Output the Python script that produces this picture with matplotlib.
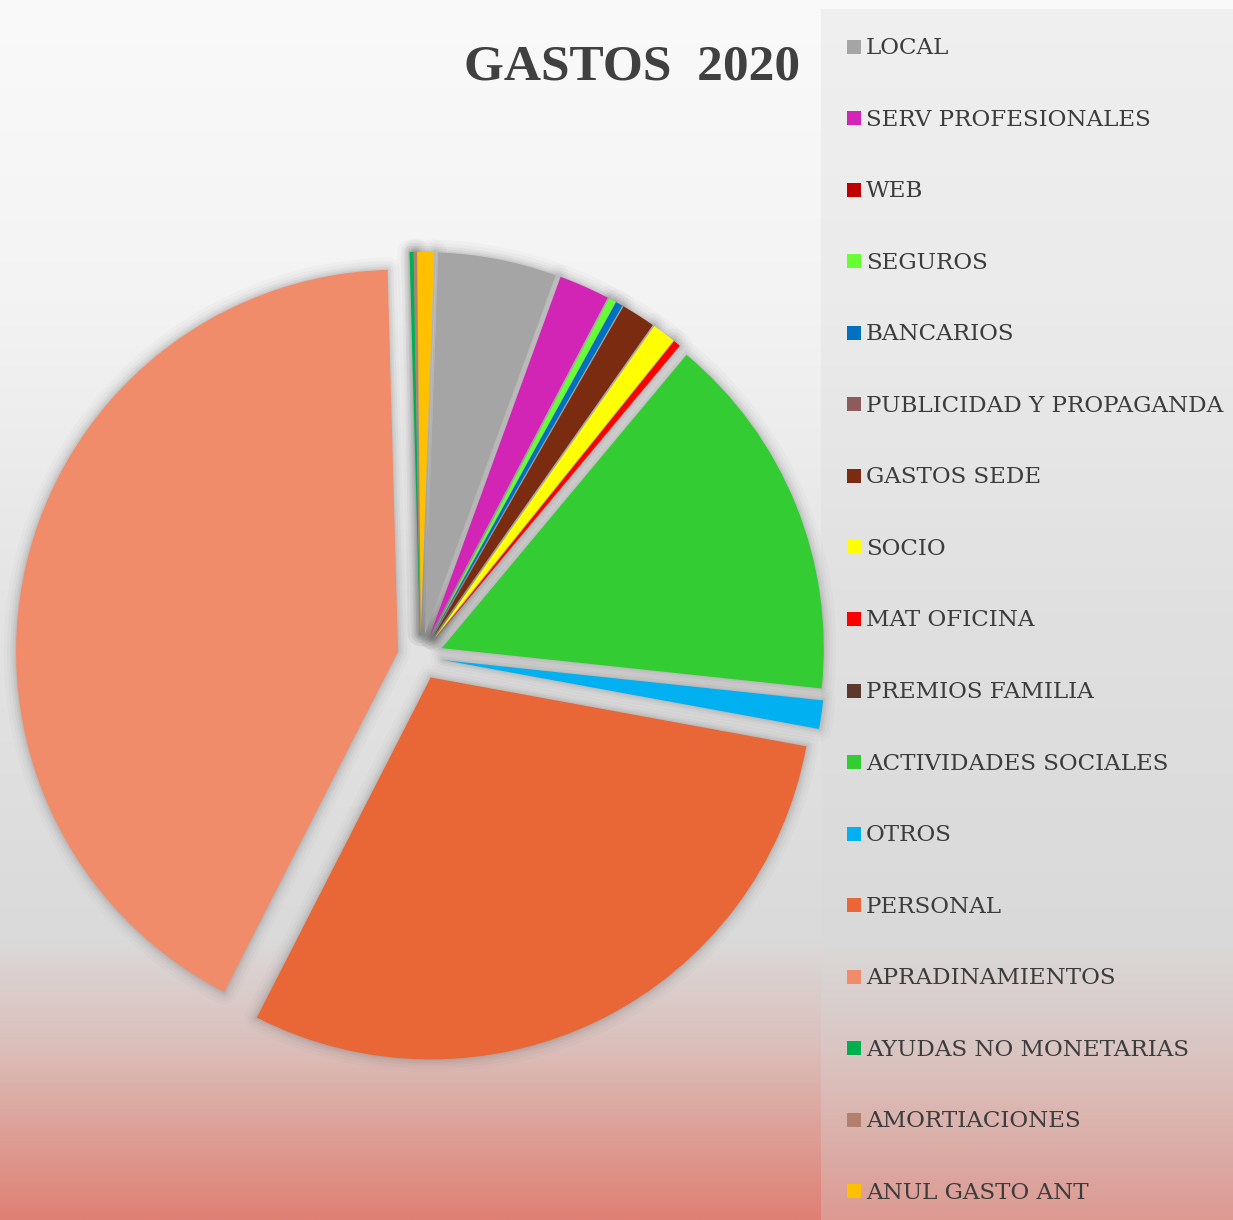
import matplotlib
matplotlib.use("Agg")
import matplotlib.pyplot as plt
import numpy as np
from matplotlib.patches import Rectangle

# ---------------- data ----------------
categories = ["LOCAL", "SERV PROFESIONALES", "WEB", "SEGUROS", "BANCARIOS",
              "PUBLICIDAD Y PROPAGANDA", "GASTOS SEDE", "SOCIO", "MAT OFICINA",
              "PREMIOS FAMILIA", "ACTIVIDADES SOCIALES", "OTROS", "PERSONAL",
              "APRADINAMIENTOS", "AYUDAS NO MONETARIAS", "AMORTIACIONES",
              "ANUL GASTO ANT"]
values = [5.0, 2.15, 0.0, 0.3, 0.3, 0.0, 1.45, 1.0, 0.3, 0.0, 15.6, 1.2,
          29.6, 42.0, 0.17, 0.12, 0.7]
colors = ["#A5A5A5", "#D225B5", "#C00000", "#66FF33", "#0070C0", "#8C5C5C",
          "#7B2C10", "#FFFF00", "#FF0000", "#5B3A2E", "#33CC33", "#00B0F0",
          "#E96737", "#F08C6A", "#00B050", "#B07F6E", "#FFC000"]
title = "GASTOS  2020"

# ---------------- figure ----------------
W, H = 1233, 1220
fig = plt.figure(figsize=(W / 100, H / 100), dpi=100)

bg = fig.add_axes([0, 0, 1, 1])
bg.set_xlim(0, W)
bg.set_ylim(H, 0)
bg.axis("off")

# background vertical gradient
stops = [(0.0, (250, 250, 250)), (0.25, (243, 243, 243)), (0.5, (228, 228, 228)),
         (0.77, (218, 218, 218)), (0.86, (219, 190, 186)), (1.0, (223, 128, 116))]
ys = np.linspace(0, 1, 800)
grad = np.zeros((800, 1, 3))
for c in range(3):
    grad[:, 0, c] = np.interp(ys, [s[0] for s in stops], [s[1][c] / 255 for s in stops])
bg.imshow(grad, extent=(0, W, H, 0), aspect="auto", zorder=0, interpolation="bilinear")

# legend panel
bg.add_patch(Rectangle((821, 9), W - 821, H - 9, facecolor=(0.85, 0.85, 0.85),
                       alpha=0.3, edgecolor="none", zorder=1))

# title
bg.text(632, 79, title, ha="center", va="baseline", fontsize=37,
        family="Liberation Serif", weight="bold",
        color="#404040", zorder=3)

# legend entries
row0, step = 54.0, 71.56
for i, (lab, col) in enumerate(zip(categories, colors)):
    yb = row0 + step * i
    bg.add_patch(Rectangle((847, yb - 14.5), 14, 14, facecolor=col,
                           edgecolor="none", zorder=3))
    bg.text(866, yb, lab, ha="left", va="baseline", fontsize=16.6,
            family="DejaVu Serif", color="#3c3c3c", zorder=3)

# ---------------- pie ----------------
ax = fig.add_axes([0, 0, 1, 1])
ax.patch.set_visible(False)
cx, cy = 420.5, H - 656.8
R = 382
expl = [23] * len(values)

# soft shadow layers
for lw, a in [(18, 0.03), (13, 0.045), (8.5, 0.065), (5, 0.085), (2, 0.11)]:
    ws, _ = ax.pie(values, radius=R, center=(cx, cy), startangle=88,
                   counterclock=False, explode=expl, normalize=True,
                   wedgeprops=dict(facecolor="none", edgecolor="#6a6a6a",
                                   linewidth=lw, alpha=a, joinstyle="round"))
    for w, v in zip(ws, values):
        if v == 0:
            w.set_visible(False)

wedges, _ = ax.pie(values, radius=R, center=(cx, cy), startangle=88,
                   counterclock=False, explode=expl, colors=colors,
                   normalize=True, wedgeprops=dict(linewidth=0))
for w, v in zip(wedges, values):
    if v == 0:
        w.set_visible(False)

ax.set_xlim(0, W)
ax.set_ylim(0, H)
ax.set_aspect("auto")
ax.axis("off")

fig.savefig("out.png", dpi=100)
